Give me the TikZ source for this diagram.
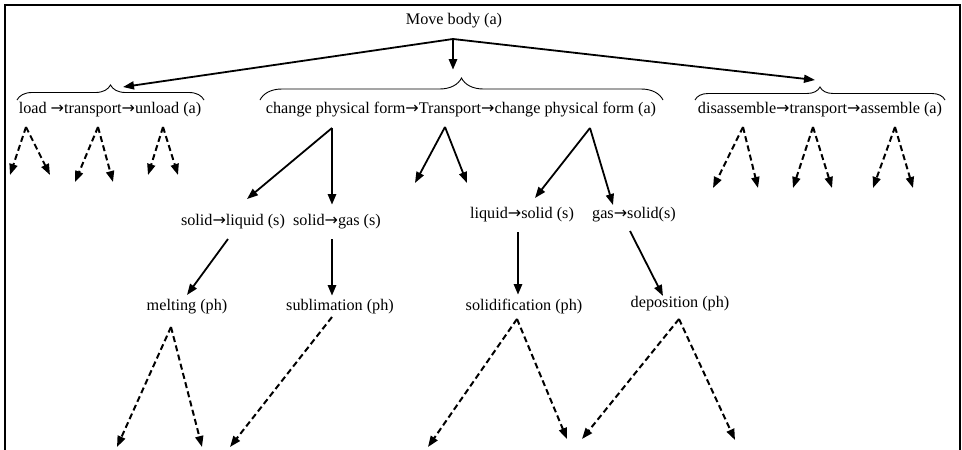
\documentclass[tikz,border=0pt]{standalone}
\usepackage{fontspec}
\setmainfont{Liberation Serif}
\newfontfamily\arrfont{DejaVu Sans}
\newcommand{\rarr}{{\arrfont\fontsize{16}{18}\selectfont →}}
\usetikzlibrary{arrows.meta,decorations.pathreplacing}

\begin{document}
\begin{tikzpicture}[x=1pt,y=1pt,
  font=\fontsize{16.2}{19}\selectfont,
  lbl/.style={inner sep=1pt},
  arr/.style={line width=1.8pt,-{Triangle[length=11pt,width=8pt]}},
  bigarr/.style={arr,line width=2.8pt},
  dasharr/.style={arr,line width=2pt,dash pattern=on 6pt off 3.5pt},
  curly/.style={line width=0.9pt,decorate,decoration={brace,amplitude=#1}}]

\useasboundingbox (0,0) rectangle (962,-450);
\draw[line width=2pt] (5,-450) -- (5,-5) -- (960,-5) -- (960,-450);

% labels
\node[lbl] (move) at (454,-21) {Move body (a)};
\node[lbl] (load) at (110,-110) {load \rarr transport\rarr unload (a)};
\node[lbl] (change) at (461,-110) {change physical form\rarr Transport\rarr change physical form (a)};
\node[lbl] (dis) at (820,-110) {disassemble\rarr transport\rarr assemble (a)};
\node[lbl] (sl) at (233,-222) {solid\rarr liquid (s)};
\node[lbl] (sg) at (337,-222) {solid\rarr gas (s)};
\node[lbl] (ls) at (522,-215) {liquid\rarr solid (s)};
\node[lbl] (gs) at (634,-215) {gas\rarr solid(s)};
\node[lbl] (melt) at (187,-307) {melting (ph)};
\node[lbl] (subl) at (340,-307) {sublimation (ph)};
\node[lbl] (solid) at (524,-307) {solidification (ph)};
\node[lbl] (depo) at (680,-304) {deposition (ph)};

% braces
\draw[curly=15pt] (17,-100) -- (204,-100);
\draw[curly=22pt] (260,-100) -- (663,-100);
\draw[curly=13pt] (695,-100) -- (945,-100);

\coordinate (split) at (453,-39);
\coordinate (toload) at (123,-87);
\coordinate (tochange) at (453,-70);
\coordinate (todis) at (815,-80);
\draw[arr] (split) -- (toload);
\draw[bigarr] (split) -- (tochange);
\draw[arr] (split) -- (todis);

% solid branches
\coordinate (c1) at (332,-128);
\coordinate (c2) at (445,-127);
\coordinate (c3) at (590,-128);
\coordinate (slin) at (247,-199);
\coordinate (sgin) at (332,-205);
\coordinate (t1) at (415,-183);
\coordinate (t2) at (467,-183);
\coordinate (lsin) at (535,-198);
\coordinate (gsin) at (613,-205);
\draw[arr] (c1) -- (slin);
\draw[bigarr] (c1) -- (sgin);
\draw[arr] (c2) -- (t1);
\draw[arr] (c2) -- (t2);
\draw[arr] (c3) -- (lsin);
\draw[arr] (c3) -- (gsin);

\coordinate (slout) at (228,-239);
\coordinate (sgout) at (332,-239);
\coordinate (lsout) at (518,-232);
\coordinate (gsout) at (630,-231);
\coordinate (meltin) at (187,-295);
\coordinate (sublin) at (332,-296);
\coordinate (solidin) at (518,-295);
\coordinate (depoin) at (663,-296);
\draw[arr] (slout) -- (meltin);
\draw[bigarr] (sgout) -- (sublin);
\draw[bigarr] (lsout) -- (solidin);
\draw[arr] (gsout) -- (depoin);

% dashed fans
\foreach \n/\ax/\ay/\lx/\ly/\rx/\ry in {
  a/26/-127/10/-175/50/-175,
  b/98/-127/75/-182/113/-182,
  c/163/-127/148/-175/178/-175,
  d/743/-127/713/-188/758/-188,
  e/813/-127/793/-188/832/-188,
  f/895/-127/873/-188/913/-188,
  g/171/-327/117/-447/202/-447,
  h/517/-319/428/-447/567/-439,
  i/679/-319/582/-439/735/-440}{
  \coordinate (fan\n) at (\ax,\ay);
  \coordinate (fan\n l) at (\lx,\ly);
  \coordinate (fan\n r) at (\rx,\ry);
  \draw[dasharr] (fan\n) -- (fan\n l);
  \draw[dasharr] (fan\n) -- (fan\n r);
}
\coordinate (sublout) at (332,-317);
\coordinate (sublend) at (230,-447);
\draw[dasharr] (sublout) -- (sublend);

\end{tikzpicture}
\end{document}
